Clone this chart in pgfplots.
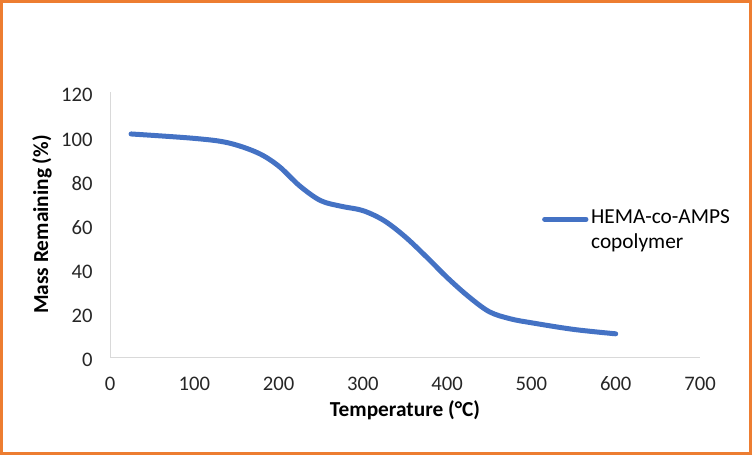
\documentclass[border=0pt]{standalone}
\usepackage{fontspec}
\setmainfont{Carlito}
\usepackage{pgfplots}
\pgfplotsset{compat=1.18}
\definecolor{xlblue}{HTML}{4472C4}
\definecolor{xlorange}{HTML}{ED7D31}
\definecolor{xlgrid}{HTML}{D9D9D9}
\definecolor{xltext}{HTML}{262626}
\begin{document}
\begin{tikzpicture}[x=1pt,y=1pt]
\useasboundingbox (0,0) rectangle (564,341.25);
\begin{axis}[
  scale only axis,
  anchor=south west,
  at={(82.5pt,73.5pt)},
  width=442.5pt, height=198.75pt,
  xmin=0, xmax=700, ymin=0, ymax=120,
  xtick={0,100,...,700}, ytick={0,20,...,120},
  axis x line*=bottom, axis y line*=left,
  axis line style={xlgrid, line width=0.75pt},
  major tick length=0pt,
  /pgf/number format/assume math mode=true,
  tick label style={font=\fontsize{15.5}{18}\selectfont, text=xltext},
  xticklabel style={anchor=center, yshift=-19.9pt},
  yticklabel style={anchor=east, xshift=-9.5pt, yshift=-2.5pt},
  xlabel={\textbf{Temperature (°C)}},
  ylabel={\textbf{Mass Remaining (\%)}},
  label style={font=\fontsize{16}{19}\selectfont, text=black},
  xlabel style={at={(axis description cs:0.5,-0.2)}, anchor=center},
  ylabel style={at={(axis description cs:-0.1153,0.5)}, anchor=center, rotate=0},
  legend style={draw=none, fill=none, at={(axis description cs:0.732,0.536)}, anchor=west,
    font=\fontsize{16}{20}\selectfont, cells={anchor=base west}, inner sep=0pt},
  legend image code/.code={\draw[#1, line cap=round] (0pt,0.3em) -- (31pt,0.3em);},
]
\addplot[xlblue, line width=3.75pt, line cap=round, smooth, tension=0.55] coordinates {
(25,101) (100,99) (140,97) (175,92.5) (200,86.5) (225,77.5) (250,70.8) (275,68.2)
(300,66.3) (325,61.8) (350,54.5) (375,45.5) (400,36) (425,27.5) (450,20.5) (475,17.3)
(500,15.5) (550,12.5) (600,10.5)};
\addlegendentry{\begin{tabular}[t]{@{}l@{}}HEMA-co-AMPS\\[-1pt]copolymer\end{tabular}}
\end{axis}
\draw[xlorange, line width=2.25pt] (1.125,1.125) rectangle (562.875,340.125);
\end{tikzpicture}
\end{document}
